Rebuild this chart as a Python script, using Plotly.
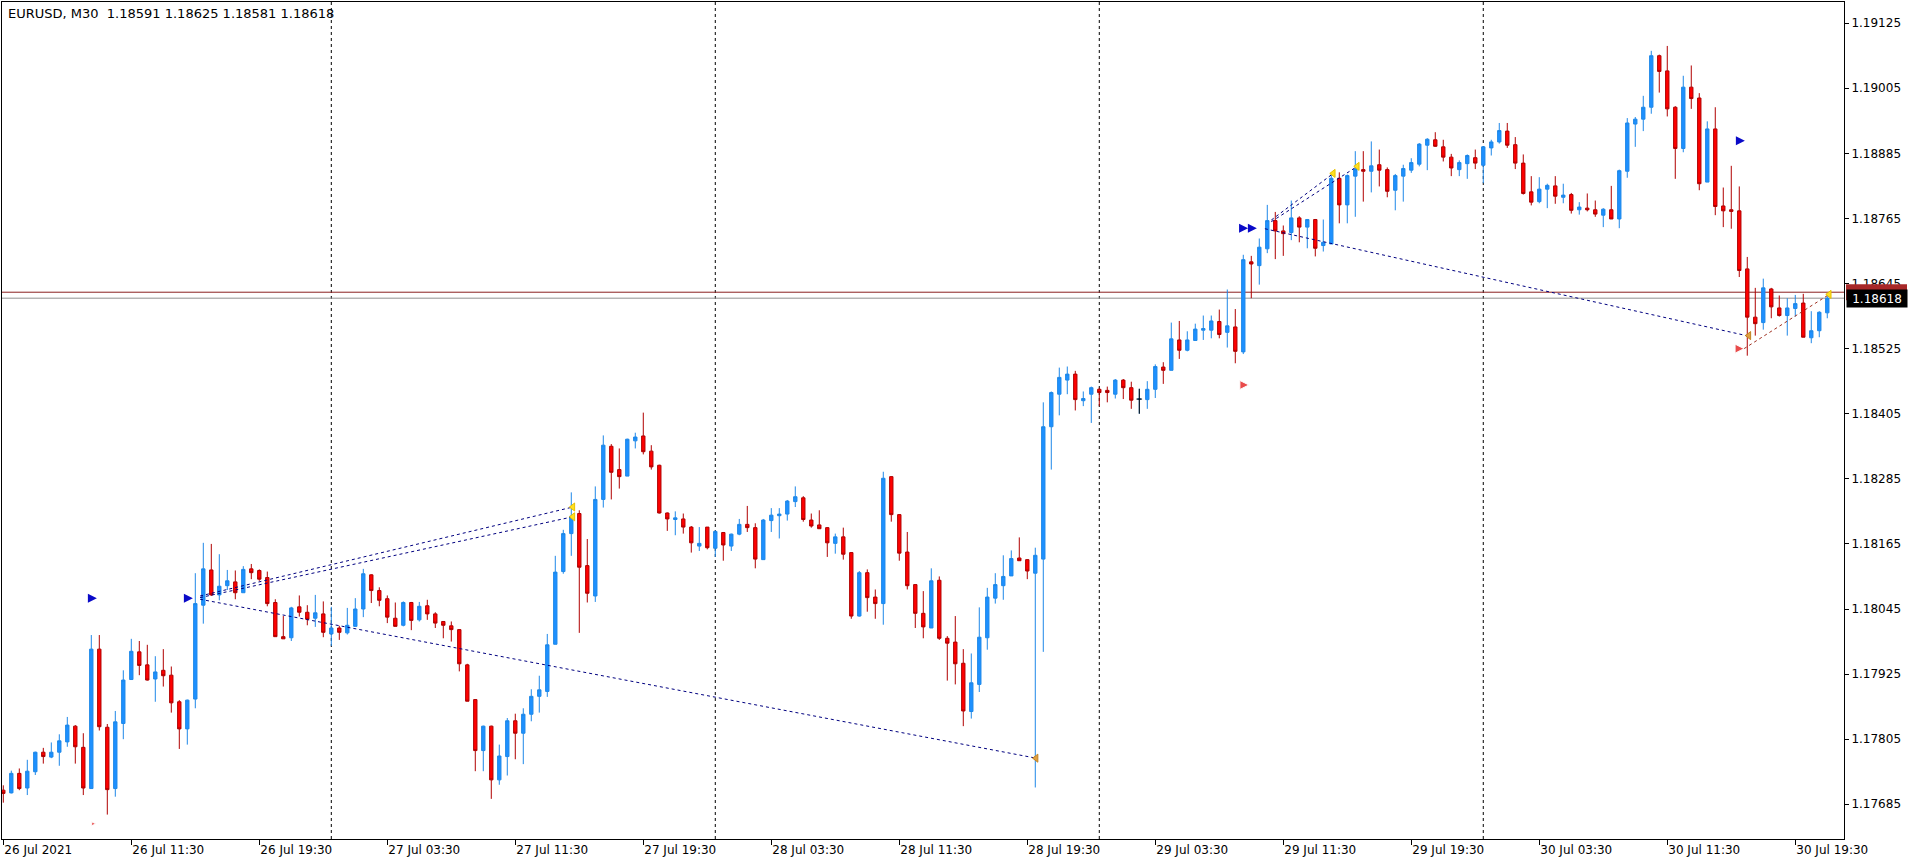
import pandas as pd
import plotly.graph_objects as go

# ---------------- data ----------------
symbol_title = "EURUSD, M30  1.18591 1.18625 1.18581 1.18618"
start_time = "2021-07-26 03:30"

opens = [1.17711,1.17706,1.17742,1.17715,1.17745,1.17781,1.17772,1.17781,1.17800,1.17829,
         1.17790,1.17714,1.17971,1.17827,1.17714,1.17834,1.17915,1.17966,1.17942,1.17916,
         1.17932,1.17923,1.17874,1.17824,1.17879,1.18052,1.18117,1.18071,1.18088,1.18095,
         1.18075,1.18119,1.18116,1.18103,1.18057,1.17994,1.17992,1.18049,1.18039,1.18028,
         1.18036,1.17999,1.18010,1.18001,1.18013,1.18045,1.18108,1.18079,1.18064,1.18028,
         1.18015,1.18057,1.18025,1.18051,1.18036,1.18022,1.18014,1.18007,1.17942,1.17878,
         1.17784,1.17829,1.17730,1.17773,1.17839,1.17816,1.17851,1.17884,1.17893,1.17980,
         1.18114,1.18184,1.18221,1.18125,1.18069,1.18247,1.18345,1.18302,1.18290,1.18355,
         1.18364,1.18336,1.18310,1.18222,1.18210,1.18211,1.18196,1.18161,1.18196,1.18157,
         1.18186,1.18161,1.18183,1.18201,1.18195,1.18136,1.18208,1.18217,1.18220,1.18243,
         1.18250,1.18209,1.18200,1.18195,1.18166,1.18178,1.18149,1.18032,1.18112,1.18067,
         1.18055,1.18289,1.18219,1.18150,1.18090,1.18037,1.18010,1.18098,1.17991,1.17984,
         1.17945,1.17856,1.17906,1.17992,1.18065,1.18088,1.18106,1.18139,1.18136,1.18111,
         1.18137,1.18381,1.18441,1.18467,1.18478,1.18429,1.18441,1.18450,1.18448,1.18441,
         1.18467,1.18453,1.18432,1.18431,1.18450,1.18491,1.18485,1.18541,1.18522,1.18540,
         1.18559,1.18559,1.18575,1.18555,1.18565,1.18519,1.18685,1.18678,1.18709,1.18761,
         1.18742,1.18739,1.18766,1.18749,1.18763,1.18715,1.18718,1.18839,1.18790,1.18843,
         1.18855,1.18852,1.18864,1.18855,1.18817,1.18843,1.18854,1.18865,1.18900,1.18910,
         1.18897,1.18878,1.18855,1.18866,1.18877,1.18863,1.18895,1.18906,1.18926,1.18901,
         1.18867,1.18814,1.18796,1.18819,1.18825,1.18804,1.18809,1.18781,1.18784,1.18781,
         1.18771,1.18781,1.18764,1.18852,1.18939,1.18948,1.18970,1.19065,1.19037,1.18970,
         1.18894,1.19007,1.18987,1.18832,1.18930,1.18788,1.18781,1.18779,1.18672,1.18583,
         1.18573,1.18635,1.18600,1.18586,1.18599,1.18609,1.18545,1.18558,1.18591]
highs = [1.17720,1.17747,1.17751,1.17767,1.17782,1.17789,1.17799,1.17814,1.17846,1.17831,
         1.17816,1.17997,1.17997,1.17833,1.17857,1.17932,1.17990,1.17986,1.17979,1.17958,
         1.17971,1.17939,1.17877,1.17878,1.18111,1.18167,1.18165,1.18146,1.18117,1.18116,
         1.18124,1.18128,1.18118,1.18114,1.18063,1.18032,1.18049,1.18070,1.18052,1.18071,
         1.18059,1.18049,1.18014,1.18047,1.18065,1.18119,1.18109,1.18085,1.18070,1.18057,
         1.18059,1.18058,1.18058,1.18062,1.18039,1.18022,1.18022,1.18008,1.17944,1.17879,
         1.17830,1.17830,1.17795,1.17844,1.17852,1.17862,1.17897,1.17922,1.17999,1.18143,
         1.18191,1.18260,1.18227,1.18174,1.18271,1.18365,1.18349,1.18341,1.18359,1.18370,
         1.18407,1.18347,1.18311,1.18223,1.18225,1.18221,1.18198,1.18196,1.18196,1.18190,
         1.18187,1.18184,1.18211,1.18235,1.18203,1.18211,1.18231,1.18231,1.18246,1.18271,
         1.18253,1.18221,1.18227,1.18196,1.18184,1.18195,1.18150,1.18115,1.18118,1.18081,
         1.18298,1.18290,1.18220,1.18187,1.18090,1.18078,1.18120,1.18105,1.17995,1.18032,
         1.17971,1.17963,1.18048,1.18084,1.18111,1.18144,1.18153,1.18177,1.18137,1.18158,
         1.18426,1.18446,1.18490,1.18492,1.18484,1.18446,1.18455,1.18453,1.18455,1.18469,
         1.18469,1.18464,1.18451,1.18465,1.18496,1.18500,1.18573,1.18576,1.18557,1.18571,
         1.18586,1.18586,1.18597,1.18634,1.18598,1.18698,1.18696,1.18728,1.18790,1.18777,
         1.18752,1.18798,1.18769,1.18764,1.18764,1.18763,1.18849,1.18850,1.18846,1.18889,
         1.18889,1.18907,1.18892,1.18859,1.18847,1.18864,1.18876,1.18904,1.18913,1.18924,
         1.18910,1.18884,1.18872,1.18883,1.18892,1.18898,1.18910,1.18941,1.18941,1.18915,
         1.18883,1.18843,1.18841,1.18829,1.18843,1.18829,1.18812,1.18795,1.18811,1.18798,
         1.18784,1.18825,1.18855,1.18950,1.18952,1.18991,1.19074,1.19067,1.19083,1.18972,
         1.19028,1.19047,1.18996,1.18944,1.18970,1.18822,1.18862,1.18824,1.18694,1.18637,
         1.18654,1.18637,1.18623,1.18618,1.18624,1.18626,1.18594,1.18594,1.18625]
lows = [1.17688,1.17705,1.17711,1.17702,1.17739,1.17760,1.17770,1.17756,1.17791,1.17760,
        1.17702,1.17714,1.17821,1.17666,1.17699,1.17805,1.17915,1.17923,1.17913,1.17874,
        1.17902,1.17854,1.17787,1.17795,1.17862,1.18018,1.18069,1.18061,1.18080,1.18063,
        1.18075,1.18100,1.18097,1.18050,1.17994,1.17990,1.17986,1.18031,1.18015,1.18012,
        1.17993,1.17977,1.17988,1.17998,1.18013,1.18030,1.18056,1.18050,1.18019,1.18013,
        1.18013,1.18006,1.18022,1.18025,1.18010,1.17991,1.17985,1.17930,1.17875,1.17746,
        1.17746,1.17695,1.17721,1.17738,1.17768,1.17759,1.17838,1.17854,1.17883,1.17980,
        1.18110,1.18143,1.18001,1.18057,1.18058,1.18232,1.18247,1.18267,1.18290,1.18341,
        1.18330,1.18302,1.18221,1.18189,1.18181,1.18184,1.18149,1.18152,1.18155,1.18141,
        1.18134,1.18152,1.18181,1.18187,1.18120,1.18136,1.18187,1.18175,1.18208,1.18233,
        1.18206,1.18195,1.18193,1.18141,1.18147,1.18136,1.18027,1.18031,1.18040,1.18027,
        1.18016,1.18206,1.18134,1.18081,1.18010,1.17991,1.18010,1.17988,1.17913,1.17906,
        1.17829,1.17843,1.17892,1.17970,1.18055,1.18062,1.18106,1.18134,1.18100,1.17716,
        1.17966,1.18302,1.18402,1.18441,1.18411,1.18419,1.18388,1.18419,1.18426,1.18433,
        1.18432,1.18414,1.18405,1.18414,1.18434,1.18460,1.18485,1.18506,1.18520,1.18540,
        1.18541,1.18544,1.18544,1.18527,1.18498,1.18515,1.18618,1.18643,1.18701,1.18690,
        1.18696,1.18725,1.18721,1.18710,1.18695,1.18704,1.18718,1.18756,1.18756,1.18768,
        1.18796,1.18813,1.18824,1.18804,1.18780,1.18796,1.18849,1.18861,1.18854,1.18897,
        1.18870,1.18843,1.18843,1.18838,1.18856,1.18830,1.18881,1.18903,1.18895,1.18856,
        1.18809,1.18789,1.18793,1.18784,1.18792,1.18793,1.18774,1.18772,1.18778,1.18768,
        1.18749,1.18764,1.18747,1.18840,1.18897,1.18926,1.18958,1.18997,1.18953,1.18838,
        1.18887,1.18967,1.18817,1.18832,1.18771,1.18749,1.18746,1.18657,1.18512,1.18549,
        1.18560,1.18581,1.18584,1.18549,1.18584,1.18546,1.18535,1.18546,1.18581]
closes = [1.17705,1.17742,1.17714,1.17746,1.17781,1.17773,1.17781,1.17802,1.17831,1.17791,
          1.17715,1.17971,1.17828,1.17712,1.17837,1.17914,1.17967,1.17941,1.17914,1.17929,
          1.17922,1.17872,1.17824,1.17877,1.18055,1.18119,1.18071,1.18087,1.18097,1.18075,
          1.18118,1.18112,1.18100,1.18055,1.17994,1.17990,1.18047,1.18039,1.18026,1.18038,
          1.18002,1.18010,1.18002,1.18015,1.18045,1.18110,1.18079,1.18061,1.18030,1.18013,
          1.18057,1.18024,1.18050,1.18036,1.18019,1.18015,1.18007,1.17944,1.17875,1.17784,
          1.17829,1.17730,1.17774,1.17839,1.17816,1.17851,1.17884,1.17896,1.17979,1.18113,
          1.18184,1.18216,1.18122,1.18074,1.18247,1.18347,1.18297,1.18289,1.18358,1.18362,
          1.18335,1.18307,1.18222,1.18211,1.18213,1.18196,1.18167,1.18166,1.18158,1.18188,
          1.18163,1.18183,1.18201,1.18195,1.18137,1.18209,1.18218,1.18220,1.18244,1.18252,
          1.18210,1.18198,1.18193,1.18167,1.18178,1.18146,1.18032,1.18112,1.18066,1.18055,
          1.18286,1.18219,1.18148,1.18088,1.18037,1.18012,1.18097,1.17991,1.17982,1.17944,
          1.17857,1.17909,1.17993,1.18067,1.18090,1.18105,1.18138,1.18134,1.18115,1.18144,
          1.18381,1.18444,1.18472,1.18478,1.18431,1.18433,1.18453,1.18444,1.18444,1.18467,
          1.18453,1.18430,1.18432,1.18450,1.18492,1.18485,1.18543,1.18522,1.18541,1.18561,
          1.18562,1.18576,1.18551,1.18567,1.18520,1.18689,1.18681,1.18712,1.18761,1.18742,
          1.18737,1.18766,1.18749,1.18763,1.18710,1.18721,1.18839,1.18790,1.18844,1.18856,
          1.18852,1.18862,1.18854,1.18815,1.18844,1.18857,1.18868,1.18902,1.18911,1.18898,
          1.18878,1.18858,1.18868,1.18881,1.18867,1.18897,1.18906,1.18927,1.18900,1.18867,
          1.18811,1.18795,1.18819,1.18826,1.18806,1.18808,1.18780,1.18786,1.18781,1.18773,
          1.18782,1.18764,1.18853,1.18941,1.18948,1.18970,1.19065,1.19036,1.18967,1.18894,
          1.19007,1.18986,1.18829,1.18930,1.18787,1.18779,1.18778,1.18669,1.18583,1.18571,
          1.18637,1.18602,1.18586,1.18600,1.18608,1.18546,1.18558,1.18592,1.18618]

tick_labels = ["26 Jul 2021", "26 Jul 11:30", "26 Jul 19:30", "27 Jul 03:30", "27 Jul 11:30",
               "27 Jul 19:30", "28 Jul 03:30", "28 Jul 11:30", "28 Jul 19:30", "29 Jul 03:30",
               "29 Jul 11:30", "29 Jul 19:30", "30 Jul 03:30", "30 Jul 11:30", "30 Jul 19:30"]
price_ticks = [1.17685, 1.17805, 1.17925, 1.18045, 1.18165, 1.18285, 1.18405,
               1.18525, 1.18645, 1.18765, 1.18885, 1.19005, 1.19125]
bid_price = 1.18618
ask_price = 1.18629

# indicator drawings (bar position, price)
navy_lines = [
    [(24.6, 1.18063), (129.1, 1.17770)],
    [(24.6, 1.18069), (71.2, 1.18233)],
    [(24.6, 1.18066), (71.2, 1.18215)],
    [(158.5, 1.18762), (166.25, 1.18848)],
    [(158.5, 1.18759), (169.25, 1.18861)],
    [(157.7, 1.18746), (218.2, 1.18548)],
]
brown_line = [(217.6, 1.18525), (228.25, 1.18625)]
blue_arrows_x = [11.7, 23.7, 155.6, 156.7, 217.7]
blue_arrows_y = [1.18065, 1.18065, 1.18747, 1.18747, 1.18908]
red_arrows_x = [11.55, 155.7, 217.6]
red_arrows_y = [1.17649, 1.18458, 1.18525]
yellow_x = [71.2, 71.2, 166.25, 169.25, 228.25]
yellow_y = [1.18233, 1.18215, 1.18848, 1.18861, 1.18625]
orange_x = [129.1, 218.2]
orange_y = [1.17770, 1.18549]

# ---------------- figure ----------------
times = pd.date_range(start_time, periods=len(opens), freq="30min")
bars = list(range(len(opens)))
tick_vals = bars[::16][:len(tick_labels)]
day_starts = [i for i, t in enumerate(times) if t.hour == 0 and t.minute == 0]
y_lo, y_hi = 1.17621, 1.19164

FONT = "DejaVu Sans"
fig = go.Figure()

fig.add_trace(go.Candlestick(
    x=bars, open=opens, high=highs, low=lows, close=closes,
    increasing=dict(line=dict(color="#1E88E8", width=1), fillcolor="#1E90FF"),
    decreasing=dict(line=dict(color="#B00000", width=1), fillcolor="#FF0000"),
    whiskerwidth=0, hoverinfo="skip", showlegend=False,
))

# doji candles drawn in black
for i in bars:
    if opens[i] == closes[i]:
        fig.add_trace(go.Scatter(
            x=[i, i, None, i - 0.35, i + 0.35], y=[highs[i], lows[i], None, opens[i], closes[i]],
            mode="lines", line=dict(color="black", width=1), hoverinfo="skip", showlegend=False))

for seg in navy_lines:
    fig.add_trace(go.Scatter(
        x=[p[0] for p in seg], y=[p[1] for p in seg], mode="lines",
        line=dict(color="#000080", width=1, dash="3px,3px"), hoverinfo="skip", showlegend=False))
fig.add_trace(go.Scatter(
    x=[p[0] for p in brown_line], y=[p[1] for p in brown_line], mode="lines",
    line=dict(color="#A03020", width=1, dash="3px,3px"), hoverinfo="skip", showlegend=False))

fig.add_trace(go.Scatter(x=blue_arrows_x, y=blue_arrows_y, mode="markers",
    marker=dict(symbol="arrow-right", size=9, color="#0A0AC8"), hoverinfo="skip", showlegend=False))
fig.add_trace(go.Scatter(x=red_arrows_x, y=red_arrows_y, mode="markers",
    marker=dict(symbol="arrow-right", size=[4, 9, 9], color="#E00000"), hoverinfo="skip", showlegend=False))
fig.add_trace(go.Scatter(x=yellow_x, y=yellow_y, mode="markers",
    marker=dict(symbol="triangle-left", size=7, color="#FFE020", line=dict(color="#E8C000", width=1)),
    hoverinfo="skip", showlegend=False))
fig.add_trace(go.Scatter(x=orange_x, y=orange_y, mode="markers",
    marker=dict(symbol="triangle-left", size=7, color="#E0A040", line=dict(color="#C08020", width=1)),
    hoverinfo="skip", showlegend=False))

shapes = []
for d in day_starts:
    shapes.append(dict(type="line", xref="x", yref="paper", x0=d, x1=d, y0=0, y1=1,
                       line=dict(color="black", width=1, dash="3px,3px"), layer="below"))
shapes.append(dict(type="line", xref="paper", yref="y", x0=0, x1=1, y0=ask_price, y1=ask_price,
                   line=dict(color="#8B2020", width=1), layer="below"))
shapes.append(dict(type="line", xref="paper", yref="y", x0=0, x1=1, y0=bid_price, y1=bid_price,
                   line=dict(color="#909090", width=1), layer="below"))
# ask price marker on the price scale (mostly hidden behind the bid label)
ask_frac = (ask_price - y_lo) / (y_hi - y_lo)
shapes.append(dict(type="rect", xref="paper", yref="paper", x0=1.0011, x1=1.0342,
                   y0=ask_frac - 0.0095, y1=ask_frac + 0.0095,
                   fillcolor="#A82828", line=dict(width=0), layer="above"))

annotations = [
    dict(text=symbol_title, xref="paper", yref="paper", x=0, y=1, xanchor="left", yanchor="top",
         xshift=4, yshift=-2, showarrow=False, font=dict(family=FONT, size=13, color="black")),
    dict(text=f"{bid_price:.5f}", xref="paper", yref="y", x=1, y=bid_price, xanchor="left",
         yanchor="middle", xshift=2, showarrow=False, bgcolor="black", width=58, height=15,
         font=dict(family=FONT, size=12, color="white")),
]

fig.update_layout(
    width=1916, height=867,
    margin=dict(l=2, r=72, t=2, b=28),
    paper_bgcolor="white", plot_bgcolor="white",
    boxgap=0.4,
    showlegend=False, hovermode=False,
    shapes=shapes, annotations=annotations,
    xaxis=dict(
        range=[-0.1625, 230.09], rangeslider=dict(visible=False),
        tickmode="array", tickvals=tick_vals, ticktext=tick_labels,
        ticks="outside", ticklen=5, tickcolor="black", tickwidth=1,
        ticklabelposition="outside right",
        showgrid=False, zeroline=False, showline=True, linecolor="black", linewidth=1, mirror=True,
        tickfont=dict(family=FONT, size=12, color="black"),
    ),
    yaxis=dict(
        range=[y_lo, y_hi], side="right",
        tickmode="array", tickvals=price_ticks, ticktext=[f"{v:.5f}" for v in price_ticks],
        ticks="outside", ticklen=4, tickcolor="black", tickwidth=1,
        showgrid=False, zeroline=False, showline=True, linecolor="black", linewidth=1, mirror=True,
        tickfont=dict(family=FONT, size=12, color="black"),
    ),
)

fig.write_html("out.html", config={"displayModeBar": False},
               post_script="document.body.style.margin='0';document.body.style.overflow='hidden';")
